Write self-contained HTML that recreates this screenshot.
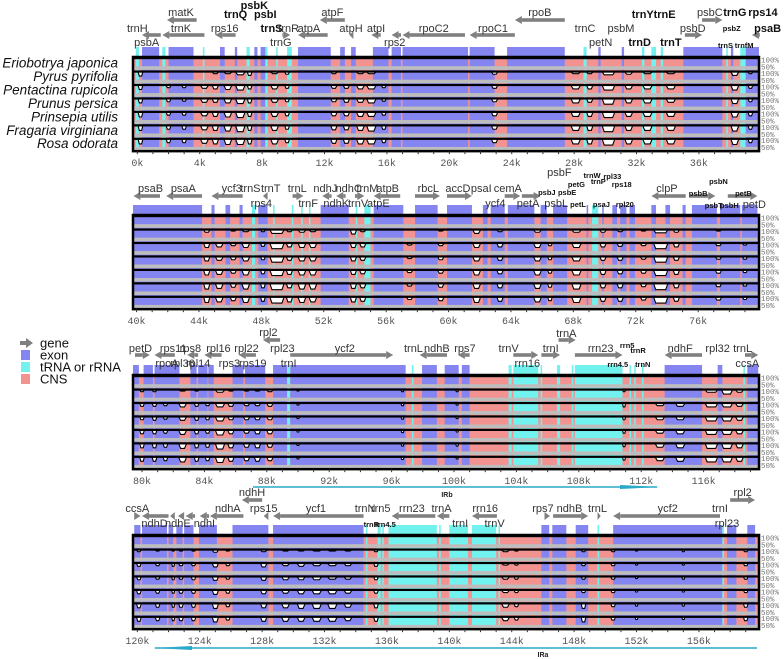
<!DOCTYPE html>
<html><head><meta charset="utf-8">
<style>
html,body{margin:0;padding:0;background:#fff;}
svg{display:block;font-family:"Liberation Sans",sans-serif;}
</style></head>
<body>
<svg id="chart" width="784" height="659" viewBox="0 0 784 659" xmlns="http://www.w3.org/2000/svg"></svg>
<script>
const species = ["Eriobotrya japonica","Pyrus pyrifolia","Pentactina rupicola","Prunus persica","Prinsepia utilis","Fragaria virginiana","Rosa odorata"];
const panelStartK = [-0.15, 39.9, 79.55, 119.85];
const tickLabelsK = [[0,4,8,12,16,20,24,28,32,36],[40,44,48,52,56,60,64,68,72,76],[80,84,88,92,96,100,104,108,112,116],[120,124,128,132,136,140,144,148,152,156]];
const segments = [
[-0.1,0.1,"T"],[0.3,1.4,"E"],[1.6,1.8,"T"],[2.0,3.6,"E"],[4.2,4.3,"T"],[5.3,5.6,"E"],[6.25,6.4,"E"],[7.0,7.2,"T"],[7.5,7.7,"E"],[7.9,8.3,"E"],[8.2,8.35,"T"],[8.9,9.0,"T"],[9.6,9.9,"T"],[10.3,12.4,"E"],[13.0,13.3,"E"],[13.7,14.0,"E"],[15.1,16.1,"E"],[16.3,16.9,"E"],[17.0,21.2,"E"],[21.3,22.9,"E"],[23.7,27.4,"E"],[28.6,28.8,"T"],[29.55,29.7,"E"],[31.05,31.2,"E"],[32.35,32.5,"T"],[32.95,33.25,"T"],[33.55,33.7,"T"],[35.0,37.5,"E"],[37.75,37.85,"T"],[38.05,38.2,"E"],[38.65,39.0,"T"],[39.0,39.9,"E"],
[39.9,44.2,"E"],[44.8,45.0,"E"],[45.7,46.0,"E"],[46.6,46.8,"E"],[47.4,47.6,"T"],[47.8,48.4,"E"],[48.75,48.85,"T"],[49.95,50.05,"T"],[50.55,50.65,"T"],[51.05,51.15,"T"],[51.8,53.6,"E"],[54.05,54.15,"T"],[54.6,55.0,"T"],[55.2,57.1,"E"],[57.85,59.3,"E"],[59.9,61.5,"E"],[62.2,62.5,"E"],[62.7,63.6,"E"],[63.8,65.5,"E"],[65.9,66.3,"E"],[66.7,67.6,"E"],[68.85,68.95,"E"],[69.2,69.6,"T"],[69.85,69.95,"E"],[70.5,70.8,"E"],[71.0,71.4,"E"],[71.6,71.95,"E"],[73.0,73.3,"E"],[73.9,74.2,"E"],[75.0,75.2,"E"],[75.6,77.2,"E"],[77.4,78.7,"E"],[78.8,79.8,"E"],
[80.1,80.7,"E"],[80.8,82.4,"E"],[83.1,83.5,"E"],[83.6,84.2,"E"],[84.25,84.6,"E"],[85.8,86.5,"E"],[86.6,87.9,"E"],[88.4,89.3,"E"],[89.3,89.5,"T"],[89.5,96.9,"E"],[97.3,97.4,"T"],[97.95,98.9,"E"],[99.4,100.3,"E"],[100.5,101.0,"E"],[103.5,103.7,"T"],[103.8,105.4,"T"],[105.55,105.65,"T"],[106.6,106.8,"T"],[107.55,107.65,"T"],[107.75,110.8,"T"],[111.25,111.35,"T"],[111.55,111.65,"T"],[112.05,112.15,"T"],[113.5,115.9,"E"],[116.9,117.2,"E"],[118.55,118.65,"T"],[118.8,119.5,"E"],
[119.8,120.2,"E"],[120.3,121.9,"E"],[122.0,122.3,"E"],[122.5,122.9,"E"],[123.0,123.6,"E"],[123.95,125.1,"E"],[126.1,128.4,"E"],[128.7,134.5,"E"],[134.65,134.75,"T"],[135.4,135.6,"T"],[135.7,135.8,"T"],[136.1,139.2,"T"],[139.35,139.45,"T"],[140.0,141.2,"T"],[141.45,143.0,"T"],[143.15,143.25,"T"],[145.9,146.4,"E"],[146.6,147.5,"E"],[148.1,148.9,"E"],[149.5,149.6,"T"],[150.5,157.5,"E"],[157.5,157.6,"T"],[157.8,158.4,"E"],[159.1,159.6,"E"]
];
const dipPos1 = [0.2,2.0,3.0,4.3,5.0,5.8,6.6,7.2,8.8,9.6,12.6,13.4,14.3,15.0,15.8,22.9,28.1,29.0,30.2,31.5,32.7,34.2,38.3,39.3];
const dipW1 = [0.3,0.3,0.3,0.5,0.4,0.5,0.6,0.3,0.5,0.3,0.4,0.4,0.5,0.6,0.3,0.4,0.6,0.4,0.8,0.5,0.6,0.6,0.5,0.3];
const dipDepth1 = [
[0.6,0,0,0,0.2,0.2,0.4,0.5,0.2,0.3,0.2,0,0.2,0.2,0,0.3,0.2,0.2,0.4,0.3,0.2,0.2,0.5,0.2],
[0.6,0.3,0.3,0.4,0.5,0.6,0.7,0.5,0.5,0.4,0.4,0.4,0.5,0.5,0.3,0.4,0.5,0.5,0.7,0.5,0.5,0.5,0.7,0.4],
[0.6,0.4,0.3,0.5,0.5,0.6,0.7,0.6,0.5,0.4,0.4,0.5,0.5,0.6,0.3,0.4,0.6,0.5,0.8,0.6,0.6,0.5,0.7,0.4],
[0.7,0.4,0.4,0.5,0.6,0.7,0.8,0.6,0.6,0.5,0.5,0.5,0.6,0.6,0.4,0.5,0.6,0.6,0.8,0.6,0.6,0.6,0.7,0.5],
[0.7,0.5,0.5,0.6,0.7,0.8,0.9,0.7,0.7,0.5,0.6,0.6,0.7,0.8,0.5,0.5,0.7,0.7,0.9,0.7,0.7,0.7,0.8,0.5],
[0.7,0.5,0.5,0.6,0.7,0.8,0.8,0.7,0.7,0.5,0.6,0.6,0.7,0.7,0.5,0.5,0.7,0.7,0.9,0.7,0.7,0.7,0.8,0.5]];
const dipPos2 = [44.5,45.3,46.2,47.0,48.1,49.0,49.8,50.6,51.3,53.9,54.5,57.5,59.5,61.8,63.3,65.7,66.5,68.2,69.9,71.0,72.5,73.6,74.6,77.3,79.0];
const dipW2 = [0.4,0.5,0.4,0.5,0.3,0.9,0.4,0.5,0.5,0.4,0.4,0.4,0.4,0.5,0.4,0.5,0.3,0.6,0.4,0.4,0.4,0.9,0.4,0.4,0.3];
const dipDepth2 = [
[0.3,0,0.1,0.2,0.2,0.5,0.2,0.3,0.2,0.6,0.2,0,0.1,0.5,0.2,0.3,0,0.3,0.3,0.2,0.1,0.4,0.3,0.1,0],
[0.6,0.5,0.3,0.6,0.4,0.8,0.5,0.6,0.6,0.6,0.5,0.2,0.3,0.6,0.5,0.6,0.3,0.6,0.5,0.4,0.3,0.8,0.5,0.3,0.2],
[0.6,0.5,0.4,0.6,0.4,0.8,0.5,0.6,0.6,0.6,0.5,0.2,0.4,0.6,0.5,0.6,0.4,0.6,0.5,0.5,0.3,0.8,0.5,0.3,0.3],
[0.7,0.6,0.4,0.7,0.5,0.8,0.6,0.7,0.7,0.6,0.5,0.3,0.4,0.7,0.5,0.7,0.4,0.7,0.6,0.5,0.4,0.8,0.6,0.4,0.3],
[0.8,0.7,0.5,0.8,0.6,0.9,0.6,0.8,0.8,0.7,0.6,0.3,0.5,0.7,0.6,0.7,0.5,0.8,0.6,0.6,0.4,0.9,0.6,0.4,0.3],
[0.8,0.7,0.5,0.8,0.6,0.9,0.7,0.8,0.7,0.7,0.6,0.3,0.5,0.8,0.6,0.7,0.5,0.8,0.6,0.6,0.4,0.9,0.6,0.4,0.3]];
const dipPos3 = [80.0,80.8,81.5,82.6,83.5,84.2,85.0,85.7,86.7,87.4,88.2,90.0,96.7,100.2,110.9,113.2,114.5,116.5,117.5,118.3];
const dipW3 = [0.3,0.3,0.3,0.5,0.3,0.3,0.6,0.4,0.4,0.4,0.4,0.2,0.2,0.2,0.2,0.6,0.6,0.8,0.7,0.5];
const dipDepth3 = [
[0.2,0.2,0,0.1,0.1,0,0.3,0.1,0.1,0.1,0.2,0.1,0.2,0.2,0.2,0,0,0.3,0.6,0.3],
[0.4,0.4,0.3,0.5,0.4,0.3,0.5,0.4,0.3,0.3,0.4,0.2,0.3,0.2,0.5,0.3,0.4,0.5,0.5,0.4],
[0.4,0.5,0.3,0.5,0.5,0.4,0.6,0.4,0.4,0.4,0.4,0.2,0.3,0.2,0.4,0.4,0.4,0.6,0.6,0.5],
[0.5,0.5,0.4,0.6,0.5,0.4,0.7,0.5,0.4,0.5,0.5,0.2,0.3,0.2,0.4,0.4,0.5,0.6,0.6,0.5],
[0.6,0.6,0.5,0.7,0.6,0.5,0.8,0.6,0.5,0.6,0.5,0.2,0.3,0.3,0.4,0.5,0.6,0.7,0.7,0.6],
[0.6,0.6,0.5,0.7,0.6,0.5,0.8,0.6,0.5,0.6,0.5,0.2,0.3,0.2,0.4,0.5,0.6,0.7,0.7,0.6]];
const dipPos4 = [120.1,121.3,122.3,122.8,123.6,125.0,125.8,128.1,129.5,130.5,131.5,132.5,133.5,135.3,143.6,144.3,148.6,150.5,152.0,155.0,159.0];
const dipW4 = [0.3,0.3,0.2,0.3,0.3,0.4,0.3,0.4,0.5,0.5,0.6,0.6,0.5,0.3,0.5,0.3,0.3,0.3,0.2,0.2,0.3];
const dipDepth4 = [
[0.2,0.1,0.1,0.1,0.1,0.3,0.1,0.2,0.1,0.1,0.1,0.1,0.1,0.2,0.2,0.1,0.2,0.2,0.1,0.2,0.2],
[0.4,0.3,0.4,0.3,0.3,0.5,0.3,0.5,0.3,0.4,0.3,0.3,0.3,0.4,0.2,0.2,0.3,0.3,0.2,0.2,0.3],
[0.4,0.3,0.4,0.3,0.4,0.5,0.3,0.5,0.4,0.4,0.4,0.3,0.3,0.4,0.3,0.3,0.3,0.3,0.2,0.3,0.3],
[0.5,0.4,0.4,0.4,0.4,0.6,0.4,0.5,0.4,0.5,0.5,0.5,0.4,0.4,0.3,0.3,0.3,0.3,0.2,0.2,0.3],
[0.6,0.5,0.5,0.5,0.5,0.7,0.4,0.6,0.6,0.7,0.7,0.7,0.5,0.6,0.5,0.4,0.7,0.4,0.3,0.3,0.5],
[0.6,0.5,0.5,0.5,0.5,0.7,0.4,0.6,0.6,0.6,0.6,0.6,0.5,0.6,0.5,0.4,0.7,0.4,0.3,0.3,0.5]];
const dipPosAll = [dipPos1, dipPos2, dipPos3, dipPos4];
const dipWAll = [dipW1, dipW2, dipW3, dipW4];
const dipDepthAll = [dipDepth1, dipDepth2, dipDepth3, dipDepth4];
const geneLabels = [
["trnH",0.0,28,"n"],["psbA",0.6,42,"n"],["matK",2.8,12,"n"],["trnK",2.8,28,"n"],["rps16",5.6,28,"n"],["trnQ",6.3,14,"b"],["psbK",7.5,5,"b"],["psbI",8.2,14,"b"],["trnS",8.6,28,"b"],["trnR",9.7,28,"n"],["trnG",9.2,42,"n"],["atpA",11.0,28,"n"],["atpF",12.5,12,"n"],["atpH",13.7,28,"n"],["atpI",15.3,28,"n"],["rps2",16.5,42,"n"],["rpoC2",19.0,28,"n"],["rpoC1",22.8,28,"n"],["rpoB",25.8,12,"n"],["trnC",28.7,28,"n"],["petN",29.7,42,"n"],["psbM",31.0,28,"n"],["trnD",32.2,42,"b"],["trnY",32.4,14,"b"],["trnE",33.8,14,"b"],["trnT",34.2,42,"b"],["psbD",35.6,28,"n"],["psbC",36.7,12,"n"],["trnG",38.3,12,"b"],["rps14",40.1,12,"b"],["psbZ",38.1,27,"s"],["psaB",40.4,28,"b"],["trnS",37.7,44,"s"],["trnfM",38.9,44,"s"],
["psaB",40.9,188,"n"],["psaA",43.0,188,"n"],["ycf3",46.1,188,"n"],["trnS",47.3,188,"n"],["trnT",48.6,188,"n"],["trnL",50.3,188,"n"],["ndhJ",52.1,188,"n"],["ndhC",53.6,188,"n"],["trnM",54.8,188,"n"],["atpB",56.1,188,"n"],["rbcL",58.7,188,"n"],["accD",60.6,188,"n"],["psaI",62.1,188,"n"],["cemA",63.8,188,"n"],["clpP",74.0,188,"n"],
["rps4",48.0,203,"n"],["trnF",51.0,203,"n"],["ndhK",52.8,203,"n"],["trnV",54.2,203,"n"],["atpE",55.5,203,"n"],["ycf4",63.0,203,"n"],["petA",65.1,203,"n"],["psbL",66.9,203,"n"],["psbF",67.1,172,"n"],
["psbJ",66.3,191,"s"],["psbE",67.6,191,"s"],["petG",68.2,183,"s"],["trnW",69.2,174,"s"],["trnP",69.6,180,"s"],["rpl33",70.5,175,"s"],["rps18",71.1,183,"s"],["petL",68.3,203,"s"],["psaJ",69.8,203,"s"],["rpl20",71.3,203,"s"],["psbB",76.0,192,"s"],["psbN",77.3,180,"s"],["psbT",77.0,204,"s"],["psbH",78.0,204,"s"],["petB",78.9,192,"s"],["petD",79.6,204,"n"],
["rpl2",88.1,332,"n"],["trnA",107.2,333,"n"],["petD",79.9,348,"n"],["rps11",82.0,348,"n"],["rps8",83.1,348,"n"],["rpl16",84.9,348,"n"],["rpl22",86.7,348,"n"],["rpl23",89.0,348,"n"],["ycf2",93.0,348,"n"],["trnL",97.4,348,"n"],["ndhB",98.9,348,"n"],["rps7",100.7,348,"n"],["trnV",103.5,348,"n"],["trnI",106.2,348,"n"],["rrn23",109.4,348,"n"],["ndhF",114.5,348,"n"],["rpl32",116.9,348,"n"],["trnL",118.5,348,"n"],
["rpoA",81.6,363,"n"],["rpl36",82.6,363,"n"],["rpl14",83.6,363,"n"],["rps3",85.6,363,"n"],["rps19",87.1,363,"n"],["trnI",89.4,363,"n"],["rrn16",104.7,363,"n"],["ccsA",118.8,363,"n"],["rrn5",111.1,344,"s"],["trnR",111.8,349,"s"],["rrn4.5",110.5,363,"s"],["trnN",112.1,363,"s"],
["ndhH",127.35,492,"n"],["rpl2",158.8,492,"n"],["ccsA",120.0,508,"n"],["ndhA",125.8,508,"n"],["rps15",128.1,508,"n"],["ycf1",131.45,508,"n"],["trnN",134.6,508,"n"],["rrn5",135.6,508,"n"],["rrn23",137.6,508,"n"],["trnA",139.5,508,"n"],["rrn16",142.3,508,"n"],["rps7",146.0,508,"n"],["ndhB",147.7,508,"n"],["trnL",149.5,508,"n"],["ycf2",154.0,508,"n"],["trnI",157.35,508,"n"],
["ndhD",121.1,523,"n"],["ndhE",122.6,523,"n"],["ndhI",124.3,523,"n"],["trnR",135.0,523,"s"],["rrn4.5",135.9,523,"s"],["trnI",140.7,523,"n"],["trnV",142.9,523,"n"],["rpl23",157.8,523,"n"]
];
const geneArrows = [
[1.9,3.8,"L",20],[1.6,4.3,"L",35],[0.3,1.5,"L",35],[5.0,6.3,"L",35],[10.3,12.2,"L",35],[11.7,13.3,"L",20],[13.6,13.85,"L",35],[15.0,15.6,"L",35],[16.3,16.9,"L",35],[17.0,21.0,"L",35],[21.3,24.2,"L",35],[24.2,27.4,"L",20],[9.3,9.8,"R",35],[35.1,36.2,"R",35],[36.2,37.5,"R",20],[39.4,39.9,"L",35],
[39.8,41.5,"L",196],[41.9,44.2,"L",196],[44.8,46.8,"L",196],[48.1,48.4,"L",196],[50.0,50.7,"R",196],[51.9,52.5,"L",196],[52.8,53.4,"L",196],[54.0,54.6,"R",196],[55.2,56.9,"L",196],[57.85,59.45,"R",196],[59.9,61.5,"R",196],[63.6,64.6,"R",196],[64.7,65.9,"R",196],[73.0,75.2,"L",196],[75.5,77.1,"R",196],[77.9,79.8,"R",196],
[87.75,88.85,"L",340],[106.7,107.8,"R",340],[79.55,80.5,"R",355],[80.8,82.1,"L",355],[82.9,83.6,"L",355],[84.0,85.1,"L",355],[86.2,87.3,"L",355],[89.5,96.1,"R",355],[97.8,99.55,"L",355],[100.25,101.0,"L",355],[103.8,105.4,"R",355],[105.6,106.8,"R",355],[107.75,110.8,"R",355],[113.5,115.9,"L",355],[118.65,119.5,"R",355],
[126.7,128.0,"L",500],[158.0,159.6,"R",500],[119.8,120.2,"R",516],[120.3,122.0,"L",516],[122.1,122.4,"L",516],[122.6,123.0,"L",516],[123.1,123.7,"L",516],[124.0,124.6,"L",516],[124.65,126.8,"L",516],[128.1,128.4,"L",516],[128.7,134.5,"L",516],[136.3,139.1,"L",516],[139.2,140.0,"L",516],[141.45,143.05,"L",516],[146.1,146.45,"R",516],[146.65,148.9,"R",516],[149.5,149.7,"R",516],[150.5,157.35,"L",516]
];
const panelBoxTop = [57, 215, 375, 535];

const NS = "http://www.w3.org/2000/svg";
const svg = document.getElementById("chart");
const PXK = 15.6, X0 = 135, BOXL = 133, BOXR = 759, TRACKH = 13.45;
const COL = {E:"#8585f2", T:"#72f2ee", C:"#f29391"};
function mk(tag, attrs, parent){ const e=document.createElementNS(NS,tag); for(const k in attrs) e.setAttribute(k,attrs[k]); (parent||svg).appendChild(e); return e; }
function xOf(p,k){ return X0 + (k - panelStartK[p]) * PXK; }

const defs = mk("defs",{});
panelBoxTop.forEach((t,p)=>{
  const cp = mk("clipPath",{id:"clip"+p},defs);
  mk("rect",{x:BOXL,y:t-12,width:BOXR-BOXL,height:TRACKH*7+14},cp);
});

species.forEach((s,i)=>{
  const t = mk("text",{x:118,y:57+i*TRACKH+10.5,"text-anchor":"end","font-size":"13.5","font-style":"italic",fill:"#111"});
  
  
  t.textContent = s;
});

panelBoxTop.forEach((top,p)=>{
  const g = mk("g",{"clip-path":"url(#clip"+p+")"});
  
  
  const kMin = panelStartK[p]-1, kMax = panelStartK[p]+41;
  const H = TRACKH*7;
  mk("rect",{x:BOXL,y:top,width:BOXR-BOXL,height:H,fill:COL.C},g);
  segments.forEach(s=>{
    if(s[1]<kMin||s[0]>kMax) return;
    const x1=xOf(p,s[0]), w=Math.max(1.5,(s[1]-s[0])*PXK);
    const st = mk("rect",{x:x1,y:top-10,width:w,height:10,fill:COL[s[2]]},g);
    
    
    mk("rect",{x:x1,y:top,width:w,height:H,fill:COL[s[2]]},g);
  });
  for(let i=0;i<7;i++){
    const ty = top + i*TRACKH;
    const tg = mk("g",{},g);
    
    
    if(i>0){
      const pos=dipPosAll[p], wd=dipWAll[p], dep=dipDepthAll[p][i-1];
      pos.forEach((k,j)=>{
        const d=dep[j]; if(!d) return;
        const x1=xOf(p,k-wd[j]/2), x2=xOf(p,k+wd[j]/2), yd=ty+2+d*6, s=Math.min(2,(x2-x1)/4);
        const poly = mk("polygon",{points:`${x1},${ty+1.5} ${x1+s},${yd} ${x2-s},${yd} ${x2},${ty+1.5}`,fill:"#fff"},tg);
        
        
        mk("polyline",{points:`${x1},${ty+1.5} ${x1+s},${yd} ${x2-s},${yd} ${x2},${ty+1.5}`,fill:"none",stroke:"#000","stroke-width":"1.1"},tg);
      });
    }
    mk("rect",{x:BOXL,y:ty,width:BOXR-BOXL,height:2.2,fill:"#000"},tg);
    mk("rect",{x:BOXL,y:ty+9.2,width:BOXR-BOXL,height:3.6,fill:"#bdbdbd"},tg);
    const a=mk("text",{x:761,y:ty+5.5,"font-size":"7.5","font-family":"Liberation Mono, monospace",fill:"#777"});
    a.textContent="100%";
    const b=mk("text",{x:761,y:ty+12.5,"font-size":"7.5","font-family":"Liberation Mono, monospace",fill:"#777"});
    b.textContent="50%";
  }
  const box = mk("rect",{x:BOXL,y:top,width:BOXR-BOXL,height:H,fill:"none",stroke:"#000","stroke-width":"2.5"});
  
  
  for(let k=Math.ceil(panelStartK[p]); k<=panelStartK[p]+40; k++){
    const x=xOf(p,k); if(x<BOXL||x>BOXR) continue;
    mk("line",{x1:x,x2:x,y1:top+H,y2:top+H+3,stroke:"#333","stroke-width":"1"});
  }
  tickLabelsK[p].forEach(k=>{
    const t=mk("text",{x:xOf(p,k),y:top+H+15,"text-anchor":"middle","font-size":"10","font-family":"Liberation Mono, monospace",fill:"#555"});
    
    
    t.textContent=k+"k";
  });
});

function panelOfY(y){ return y<100?0:(y<300?1:(y<470?2:3)); }
geneArrows.forEach(a=>{
  const p=panelOfY(a[3]);
  let x1=xOf(p,a[0]), x2=xOf(p,a[1]); const y=a[3];
  const g=mk("g",{fill:"#808080"});
  
  
  const hw=Math.min(7,x2-x1);
  if(a[2]==="R"){
    if(x2-x1>hw) mk("rect",{x:x1,y:y-1.8,width:x2-x1-hw,height:3.6},g);
    mk("polygon",{points:`${x2-hw},${y-4} ${x2},${y} ${x2-hw},${y+4}`},g);
  } else {
    if(x2-x1>hw) mk("rect",{x:x1+hw,y:y-1.8,width:x2-x1-hw,height:3.6},g);
    mk("polygon",{points:`${x1+hw},${y-4} ${x1},${y} ${x1+hw},${y+4}`},g);
  }
});
geneLabels.forEach(l=>{
  const p=panelOfY(l[2]);
  const st=l[3];
  const t=mk("text",{x:xOf(p,l[1]),y:l[2]+4,"text-anchor":"middle","font-size":st==="s"?"7.5":(st==="b"?"11":"11"),"font-weight":st==="n"?"normal":"bold",fill:st==="n"?"#333":"#111"});
  
  
  t.textContent=l[0];
});

const irb=mk("g",{});


mk("line",{x1:253,x2:657,y1:487,y2:487,stroke:"#2aa9c9","stroke-width":"1.5"},irb);
mk("polygon",{points:"620,485 660,487 620,489",fill:"#2aa9c9"},irb);
const irbT=mk("text",{x:447,y:497,"font-size":"7","font-weight":"bold","text-anchor":"middle",fill:"#222"},irb); irbT.textContent="IRb";
const ira=mk("g",{});


mk("line",{x1:155,x2:757,y1:648,y2:648,stroke:"#2aa9c9","stroke-width":"1.5"},ira);
mk("polygon",{points:"192,646 152,648 192,650",fill:"#2aa9c9"},ira);
const iraT=mk("text",{x:543,y:657,"font-size":"7","font-weight":"bold","text-anchor":"middle",fill:"#222"},ira); iraT.textContent="IRa";

const leg=mk("g",{});


mk("polygon",{points:"20,341 26,341 26,338 33,343 26,348 26,345 20,345",fill:"#808080"},leg);
[["gene",343,null],["exon",355,COL.E],["tRNA or rRNA",367,COL.T],["CNS",379,COL.C]].forEach(e=>{
  const eg=mk("g",{},leg);
  
  
  if(e[2]) mk("rect",{x:21,y:e[1]-5,width:9,height:10,fill:e[2]},eg);
  const t=mk("text",{x:40,y:e[1]+4.5,"font-size":"13",fill:"#111"},eg); t.textContent=e[0];
});
</script>
</body></html>
